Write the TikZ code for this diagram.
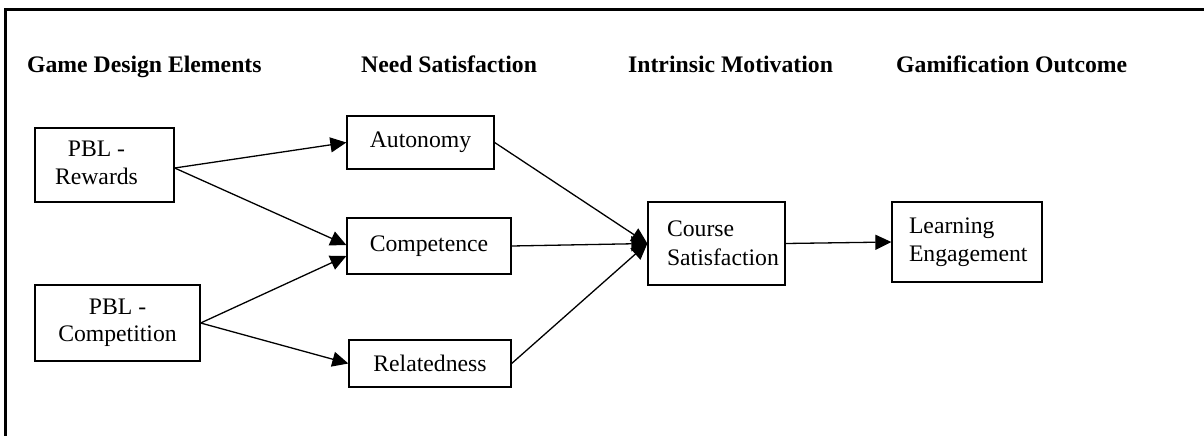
\documentclass[tikz,border=0pt]{standalone}
\usepackage{fontspec}
\setmainfont{Liberation Serif}
\usetikzlibrary{arrows.meta,calc}
\begin{document}
\begin{tikzpicture}[x=1pt,y=-1pt,
  box/.style={draw,line width=1.3pt,inner sep=0pt,font=\fontsize{23.7}{27.5}\selectfont,align=center},
  lbox/.style={draw,line width=1.3pt,inner ysep=0pt,font=\fontsize{23.7}{28.5}\selectfont,align=left},
  head/.style={anchor=base west,inner sep=0pt,font=\fontsize{23.7}{27}\selectfont\bfseries},
  arr/.style={line width=1.3pt,-{Triangle[length=16pt,width=15pt]}}]
\useasboundingbox (0,0) rectangle (1204,436);
% frame (cropped)
\draw[line width=3pt] (5,437) -- (5,10) -- (1205,10);
% headers
\node[head] (h1) at (27,72) {Game Design Elements};
\node[head] (h2) at (361,72) {Need Satisfaction};
\node[head] (h3) at (628,72) {Intrinsic Motivation};
\node[head] (h4) at (896,72) {Gamification Outcome};
% boxes
\node[box,minimum width=139pt,minimum height=74pt] (rew) at (104.5,165)
  {\hspace*{-16pt}\begin{tabular}{@{}c@{}}PBL -\\Rewards\end{tabular}};
\node[box,minimum width=165pt,minimum height=76pt] (cpt) at (117.5,323) {PBL -\\Competition};
\node[box,minimum width=147pt,minimum height=53pt] (aut) at (420.5,142.5) {Autonomy};
\node[box,minimum width=164pt,minimum height=56pt] (cmp) at (429,246) {Competence};
\node[box,minimum width=162pt,minimum height=47pt] (rel) at (430,363.5) {Relatedness};
\node[lbox,inner xsep=19pt,text width=99pt,minimum height=83pt] (cs) at (716.5,243.5) {Course\\Satisfaction};
\node[lbox,inner xsep=17pt,text width=116pt,minimum height=80pt] (le) at (967,242) {Learning\\Engagement};
% connectors
\coordinate (rewout) at ($(rew.east)+(0,3)$);
\coordinate (cmpa) at ($(cmp.west)+(0,-1)$);
\coordinate (cmpb) at ($(cmp.west)+(0,10)$);
\draw[arr] (rewout) -- (aut.west);
\draw[arr] (rewout) -- (cmpa);
\draw[arr] (cpt.east) -- (cmpb);
\draw[arr] (cpt.east) -- (rel.west);
\draw[arr] (aut.east) -- (cs.west);
\draw[arr] (cmp.east) -- (cs.west);
\draw[arr] (rel.east) -- (cs.west);
\draw[arr] (cs.east) -- (le.west);
\end{tikzpicture}
\end{document}
